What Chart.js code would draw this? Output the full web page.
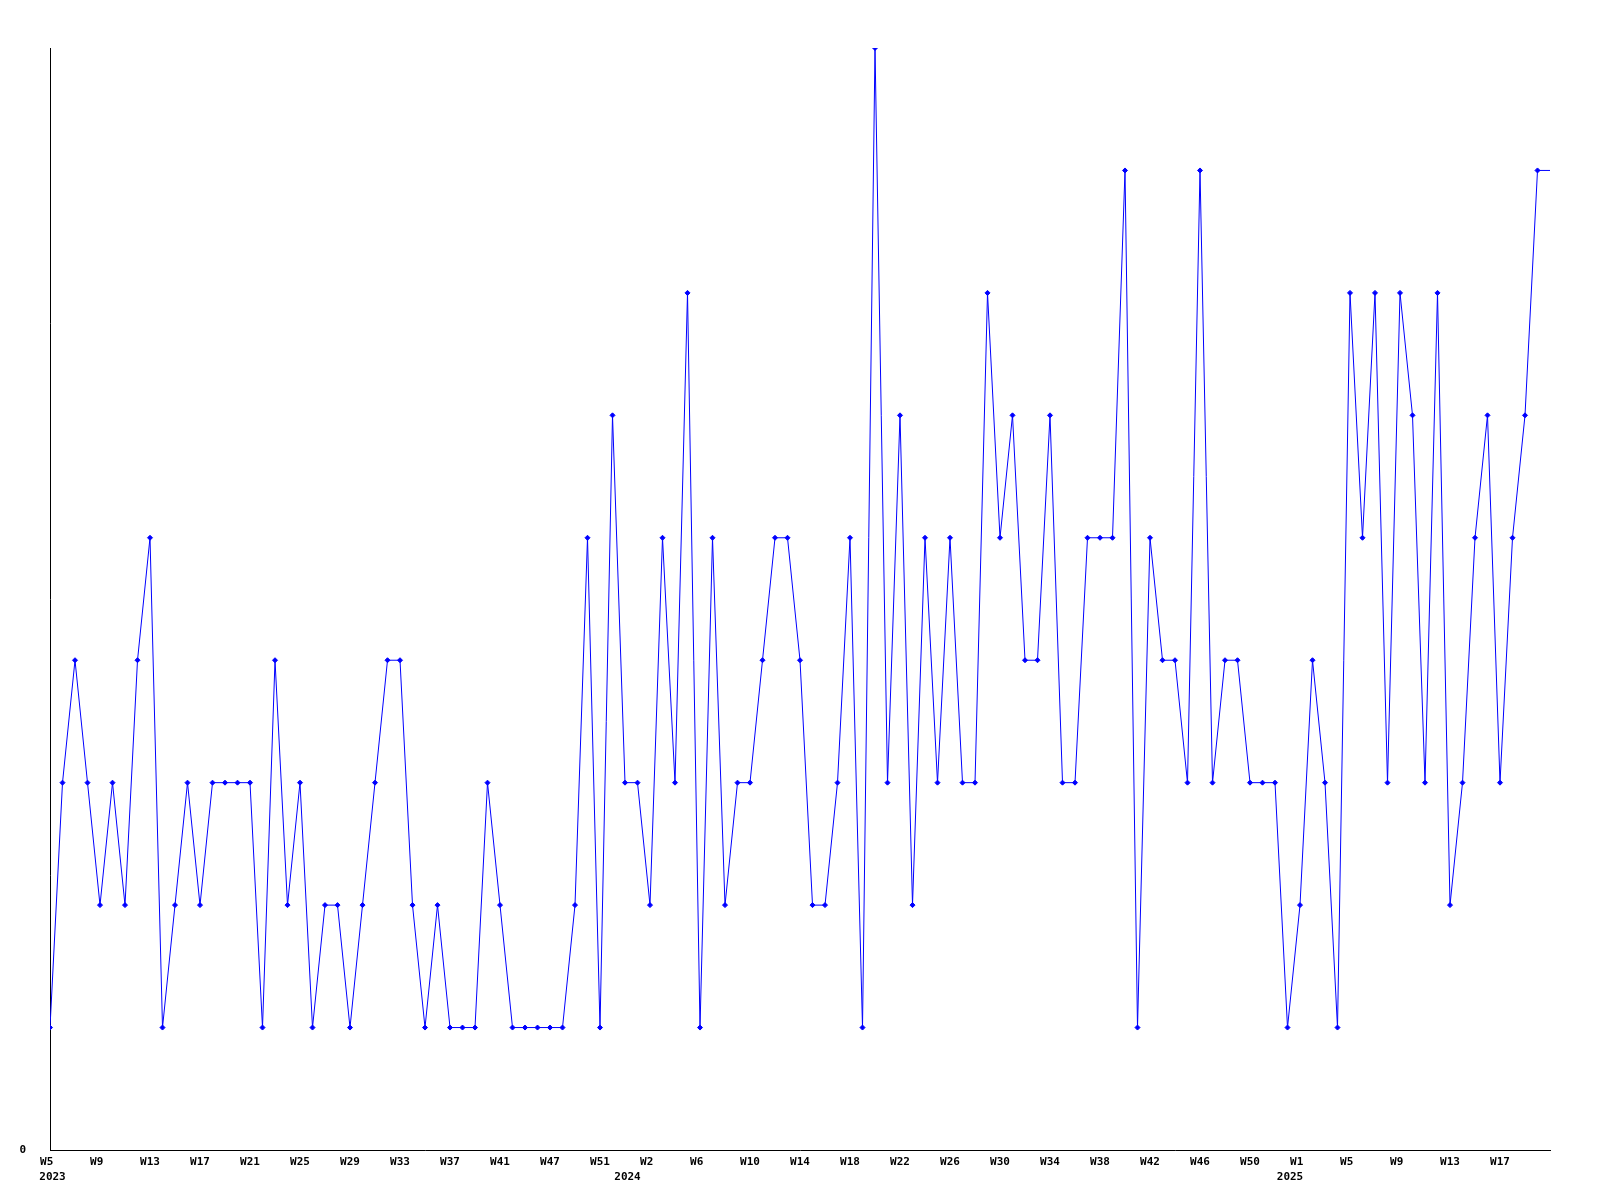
<!DOCTYPE html>
<html>
<head>
<meta charset="utf-8">
<script src="https://cdn.jsdelivr.net/npm/chart.js@4/dist/chart.umd.min.js"></script>
<style>
  body { margin: 0; background: #fff; }
  canvas { display: block; }
</style>
</head>
<body>
<canvas id="chart" width="1600" height="1200"></canvas>
<script>
// weekly counts, 2023 W5 .. 2025 W20 (last one is the running week)
var counts = [
  1, 3, 4, 3, 2, 3, 2, 4, 5, 1,
  2, 3, 2, 3, 3, 3, 3, 1, 4, 2,
  3, 1, 2, 2, 1, 2, 3, 4, 4, 2,
  1, 2, 1, 1, 1, 3, 2, 1, 1, 1,
  1, 1, 2, 5, 1, 6, 3, 3, 2, 5,
  3, 7, 1, 5, 2, 3, 3, 4, 5, 5,
  4, 2, 2, 3, 5, 1, 9, 3, 6, 2,
  5, 3, 5, 3, 3, 7, 5, 6, 4, 4,
  6, 3, 3, 5, 5, 5, 8, 1, 5, 4,
  4, 3, 8, 3, 4, 4, 3, 3, 3, 1,
  2, 4, 3, 1, 7, 5, 7, 3, 7, 6,
  3, 7, 2, 3, 5, 6, 3, 5, 6, 8,
  8
];

// one label every 4th point
var weekTicks = ['W5', 'W9', 'W13', 'W17', 'W21', 'W25', 'W29', 'W33', 'W37', 'W41',
  'W47', 'W51', 'W2', 'W6', 'W10', 'W14', 'W18', 'W22', 'W26', 'W30',
  'W34', 'W38', 'W42', 'W46', 'W50', 'W1', 'W5', 'W9', 'W13', 'W17'];
// year labels sit at week 1 of each year (2023 W1 is before the first point)
var years = ['2023', '2024', '2025'];
var yearWeekIdx = [-4, 47, 100];
var yTicks = ['0'];

var font = { family: 'DejaVu Sans Mono', size: 11, weight: 'bold', lineHeight: 16 / 11 };

var points = counts.map(function(v, i) { return { x: i, y: v }; });
var lastIdx = counts.length - 1;

var ctx = document.getElementById('chart').getContext('2d');
var chart = new Chart(ctx, {
    type: 'line',
    data: {
        datasets: [{
            data: points,
            borderColor: '#0000ff',
            backgroundColor: '#0000ff',
            borderWidth: 1,
            tension: 0,
            pointStyle: 'rectRot',
            pointRadius: function(c) { return c.dataIndex === lastIdx ? 0 : 2.5; },
            pointBorderWidth: 1,
            fill: false
        }]
    },
    options: {
        responsive: false,
        animation: false,
        layout: { padding: { top: 48, right: 50, left: 0, bottom: 0 } },
        plugins: { legend: { display: false }, tooltip: { enabled: false } },
        scales: {
            x: {
                type: 'linear',
                min: 0,
                max: lastIdx,
                weight: 0,
                grid: { drawOnChartArea: false, drawTicks: false },
                border: { color: '#000', width: 1 },
                afterFit: function(s) { s.height = 19; },
                ticks: {
                    stepSize: 4,
                    autoSkip: false,
                    maxRotation: 0,
                    padding: 4,
                    color: '#000',
                    font: font,
                    callback: function(v) {
                        var k = v / 4;
                        if (k !== Math.floor(k) || k >= weekTicks.length) return '';
                        var w = weekTicks[k];
                        return w.length < 3 ? w + ' ' : w;
                    }
                }
            },
            x2: {
                type: 'linear',
                axis: 'x',
                position: 'bottom',
                min: 0,
                max: lastIdx,
                weight: 1,
                grid: { display: false, drawTicks: false },
                border: { display: false },
                afterFit: function(s) { s.height = 31; },
                afterBuildTicks: function(s) {
                    // clamp so the first year label lines up with the first week label
                    s.ticks = yearWeekIdx.map(function(v) { return { value: Math.max(v, 1) }; });
                },
                ticks: {
                    autoSkip: false,
                    maxRotation: 0,
                    padding: 0,
                    labelOffset: -10,
                    color: '#000',
                    font: font,
                    callback: function(v, i) { return years[i]; }
                }
            },
            y: {
                min: 0,
                max: 9,
                grid: { drawOnChartArea: false, drawTicks: false },
                border: { color: '#000', width: 1 },
                afterFit: function(s) { s.width = 50; },
                ticks: {
                    stepSize: 1,
                    padding: 24,
                    color: '#000',
                    font: font,
                    callback: function(v) { return v === 0 ? yTicks[0] : ''; }
                }
            }
        }
    }
});
</script>
</body>
</html>
